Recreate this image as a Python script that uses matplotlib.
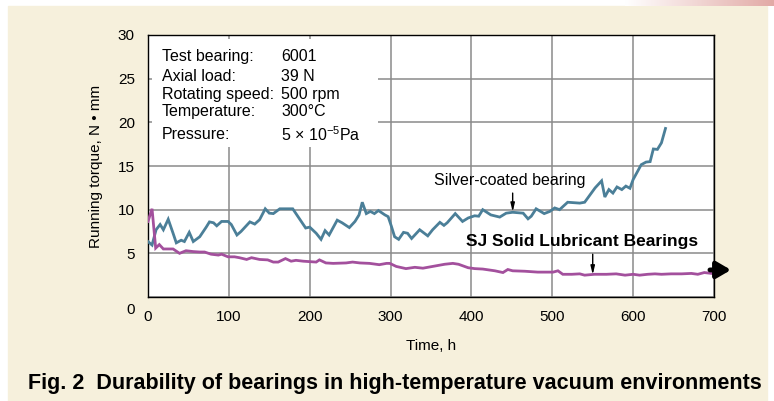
import numpy as np
import matplotlib
matplotlib.use("Agg")
import matplotlib.pyplot as plt
from matplotlib.transforms import ScaledTranslation
from matplotlib.colors import LinearSegmentedColormap

plt.rcParams["font.family"] = ["Liberation Sans", "DejaVu Sans"]
plt.rcParams["mathtext.fontset"] = "custom"
plt.rcParams["mathtext.rm"] = "Liberation Sans"

# silver-coated bearing
silver_t = [0, 5, 10, 15, 19, 25, 31, 35, 41, 45, 51, 56, 64, 72, 76, 81, 85, 91,
            99, 103, 110, 115, 126, 132, 138, 145, 150, 155, 163, 175, 179, 187,
            195, 200, 208, 214, 219, 224, 234, 240, 249, 256, 261, 265, 270, 275,
            280, 285, 293, 297, 301, 305, 310, 316, 321, 326, 336, 346, 352, 361,
            366, 370, 380, 389, 396, 404, 409, 414, 424, 435, 443, 451, 464, 470,
            474, 480, 490, 497, 503, 509, 519, 534, 540, 542, 553, 561, 565, 570,
            575, 580, 586, 591, 596, 600, 610, 616, 621, 625, 630, 635, 640]
silver_v = [6.35, 5.95, 7.7, 8.3, 7.7, 8.9, 7.3, 6.2, 6.5, 6.35, 7.4, 6.35, 6.9,
            8.0, 8.6, 8.5, 8.15, 8.65, 8.65, 8.3, 7.1, 7.5, 8.6, 8.35, 8.85, 10.1,
            9.6, 9.55, 10.1, 10.1, 10.1, 9.0, 7.9, 8.0, 7.3, 6.6, 7.6, 7.1, 8.8,
            8.5, 7.95, 8.65, 9.4, 10.85, 9.55, 9.8, 9.55, 9.9, 9.4, 9.2, 8.1, 6.9,
            6.6, 7.4, 7.3, 6.7, 7.7, 7.0, 7.7, 8.55, 8.2, 8.5, 9.55, 8.65, 9.05,
            9.3, 9.25, 10.0, 9.4, 9.15, 9.6, 9.7, 9.6, 8.95, 9.25, 10.1, 9.55, 9.8,
            10.2, 10.0, 10.85, 10.75, 10.85, 11.1, 12.5, 13.3, 11.45, 12.3, 11.9,
            12.6, 12.3, 12.7, 12.45, 13.45, 15.15, 15.45, 15.5, 16.95, 16.9, 17.65,
            19.3]

# SJ solid lubricant bearing
sj_t = [0, 5, 9.5, 14, 19, 31, 39, 47, 56, 64, 70, 78, 87, 91, 99, 107, 113, 122,
        128, 138, 148, 155, 161, 170, 177, 183, 192, 200, 208, 212, 220, 229, 245,
        253, 262, 274, 286, 295, 299, 307, 319, 330, 340, 355, 367, 377, 384, 396,
        404, 414, 429, 439, 445, 451, 466, 482, 501, 507, 513, 524, 534, 540, 552,
        567, 579, 590, 600, 608, 618, 627, 635, 647, 660, 672, 680, 688, 697, 700]
sj_v = [8.65, 10.1, 5.6, 6.0, 5.5, 5.5, 5.0, 5.3, 5.2, 5.15, 5.15, 4.9, 4.8, 4.9,
        4.6, 4.6, 4.5, 4.3, 4.5, 4.3, 4.25, 4.0, 4.0, 4.4, 4.1, 4.2, 4.1, 4.05, 4.0,
        4.25, 3.9, 3.85, 3.9, 4.0, 3.9, 3.85, 3.7, 3.85, 3.85, 3.5, 3.25, 3.4, 3.3,
        3.55, 3.75, 3.85, 3.75, 3.35, 3.25, 3.2, 3.0, 2.8, 3.15, 3.0, 2.95, 2.85,
        2.85, 3.0, 2.6, 2.6, 2.65, 2.5, 2.6, 2.6, 2.65, 2.5, 2.6, 2.5, 2.6, 2.65,
        2.6, 2.65, 2.65, 2.7, 2.6, 2.8, 2.7, 2.7]

x_ticks = [0, 100, 200, 300, 400, 500, 600, 700]
y_ticks = [0, 5, 10, 15, 20, 25, 30]

cond_labels = ["Test bearing:", "Axial load:", "Rotating speed:", "Temperature:", "Pressure:"]
cond_values = ["6001", "39 N", "500 rpm", "300°C", "5 × 10$^{\\mathregular{-5}}$Pa"]

beige = "#f6f0dc"
blue = "#4b7f98"
purple = "#a3509d"

fig = plt.figure(figsize=(7.74, 4.01), dpi=100, facecolor="white")
W, H = 774, 401

# beige panel with thin white border on top / sides
fig.patches.append(plt.Rectangle((8 / W, 0), (767 - 8) / W, (H - 6) / H,
                                 transform=fig.transFigure, color=beige, zorder=-10))
# pinkish gradient at top right
gax = fig.add_axes([625 / W, 1 - 6 / H, (W - 625) / W, 6 / H])
gax.imshow(np.linspace(0, 1, 200)[None, :], aspect="auto",
           cmap=LinearSegmentedColormap.from_list("pk", ["#ffffff", "#e2aaa6"]))
gax.axis("off")

ax = fig.add_axes([148 / W, 1 - 297 / H, 566 / W, 262 / H])
ax.set_facecolor("white")
ax.plot(silver_t, silver_v, color=blue, lw=2, zorder=3, solid_joinstyle="miter")
ax.plot(sj_t, sj_v, color=purple, lw=2, zorder=3, solid_joinstyle="miter")

ax.set_xlim(0, 700)
ax.set_ylim(0, 30)
ax.set_xticks(x_ticks)
ax.set_yticks(y_ticks)
ax.grid(True, color="#8a8a8a", lw=1.1, zorder=1)
ax.set_axisbelow(True)
ax.tick_params(length=0, labelsize=11, pad=9.5)
for s in ax.spines.values():
    s.set_linewidth(1.0)
    s.set_color("black")

# the "0" on the y axis sits lower than the axis line
yl0 = ax.get_yticklabels()[0]
yl0.set_transform(yl0.get_transform() + ScaledTranslation(0, -0.11, fig.dpi_scale_trans))

ax.set_xlabel("Time, h", fontsize=11)
ax.xaxis.set_label_coords(0.5, -0.16)
ax.set_ylabel("Running torque, N • mm", fontsize=11)
ax.yaxis.set_label_coords(-0.08, 0.5)

# test conditions block on a white patch that hides the grid
ax.add_patch(plt.Rectangle((5, 17.2), 280, 12.3, fc="white", ec="none", zorder=2))
rows_v = [27.5, 25.3, 23.2, 21.2, 18.6]
for lab, val, yv in zip(cond_labels, cond_values, rows_v):
    ax.text(17, yv, lab, fontsize=11.5, va="center", ha="left", zorder=2.5)
    ax.text(165, yv, val, fontsize=11.5, va="center", ha="left", zorder=2.5)

# annotations
ax.annotate("", xy=(451, 9.75), xytext=(451, 11.9),
            arrowprops=dict(arrowstyle="-|>,head_length=0.5,head_width=0.12",
                            color="black", lw=1, shrinkA=0, shrinkB=0))
ax.text(447, 13.35, "Silver-coated bearing", fontsize=11.5, ha="center", va="center")

ax.annotate("", xy=(550, 2.55), xytext=(550, 4.9),
            arrowprops=dict(arrowstyle="-|>,head_length=0.5,head_width=0.12",
                            color="black", lw=1, shrinkA=0, shrinkB=0))
ax.text(537, 6.4, "SJ Solid Lubricant Bearings", fontsize=12.5, fontweight="bold",
        ha="center", va="center")

# continuing arrow past 700 h
ax.annotate("", xy=(721, 3.1), xytext=(695, 3.1), annotation_clip=False,
            arrowprops=dict(arrowstyle="-|>,head_length=0.6,head_width=0.35",
                            color="black", lw=3.5, shrinkA=0, shrinkB=0,
                            mutation_scale=14))

fig.text(395 / W, 1 - 383 / H,
         "Fig. 2  Durability of bearings in high-temperature vacuum environments",
         fontsize=15.5, fontweight="bold", ha="center", va="center")

fig.savefig("out.png", dpi=100, facecolor=fig.get_facecolor())
